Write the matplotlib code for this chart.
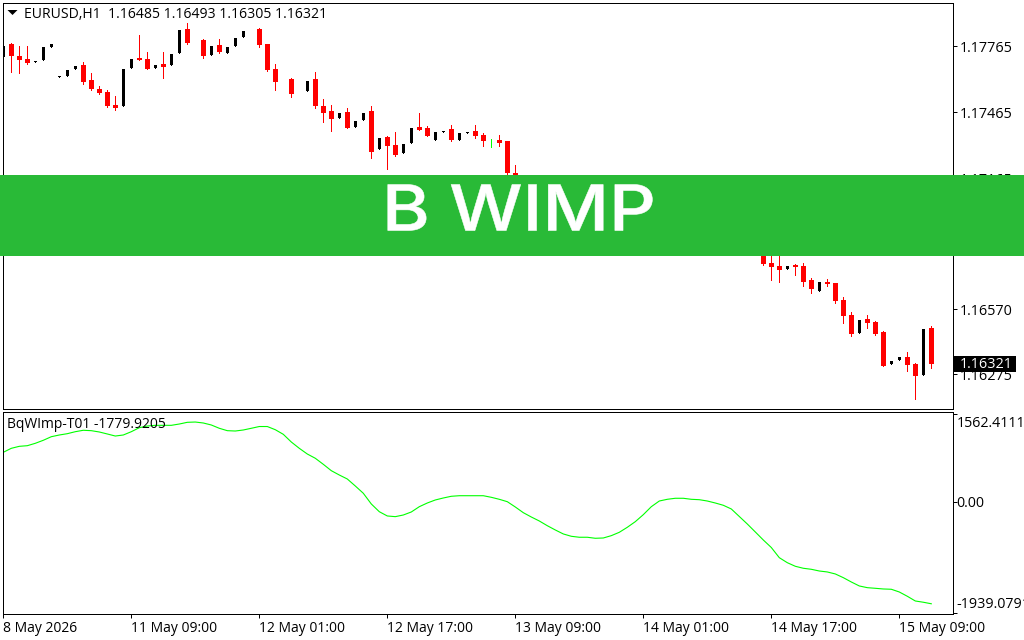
# EURUSD H1 terminal chart with BqWImp indicator panel and green title banner

import numpy as np
import matplotlib
matplotlib.use('Agg')
import matplotlib.pyplot as plt
import matplotlib.patheffects as pe
from matplotlib.patches import Rectangle
from matplotlib.transforms import Affine2D

plt.rcParams['font.family'] = ['Open Sans', 'DejaVu Sans']

# candles, prices in points (1 point = 0.00001). Bars behind the banner can't be read
bars = [0, 1, 2, 3, 4, 5, 6, 7, 8, 9,
        10, 11, 12, 13, 14, 15, 16, 17, 18, 19,
        20, 21, 22, 23, 25, 26, 27, 28, 29, 30,
        32, 33, 34, 36, 38, 39, 40, 41, 42, 43,
        44, 45, 46, 47, 48, 49, 50, 51, 52, 53,
        54, 55, 56, 57, 58, 59, 60, 61, 62, 63,
        64, 95, 96, 97, 98, 99, 100, 101, 102, 103,
        104, 105, 106, 107, 108, 109, 110, 111, 112, 113,
        114, 115, 116]
opens = [117717, 117776, 117722, 117708, 117695, 117704, 117763, 117626, 117631, 117663,
         117681, 117613, 117572, 117558, 117499, 117495, 117667, 117713, 117708, 117667,
         117686, 117681, 117736, 117845, 117795, 117726, 117772, 117736, 117767, 117808,
         117845, 117776, 117663, 117617, 117563, 117617, 117495, 117472, 117440, 117467,
         117399, 117431, 117472, 117299, 117354, 117317, 117281, 117326, 117399, 117395,
         117340, 117376, 117390, 117340, 117372, 117381, 117363, 117338, 117340, 117336,
         117190, 116840, 116781, 116767, 116754, 116772, 116767, 116704, 116654, 116695,
         116690, 116613, 116545, 116463, 116526, 116513, 116467, 116322, 116340, 116354,
         116322, 116272, 116485]
highs = [117767, 117781, 117767, 117767, 117699, 117763, 117776, 117630, 117658, 117676,
         117695, 117645, 117586, 117567, 117540, 117663, 117708, 117817, 117740, 117681,
         117740, 117731, 117840, 117872, 117799, 117767, 117799, 117763, 117804, 117836,
         117849, 117776, 117686, 117622, 117608, 117649, 117526, 117499, 117463, 117486,
         117426, 117463, 117495, 117349, 117358, 117376, 117322, 117395, 117463, 117404,
         117376, 117381, 117408, 117372, 117376, 117408, 117372, 117345, 117363, 117336,
         117226, 116840, 116813, 116813, 116767, 116776, 116781, 116713, 116695, 116708,
         116690, 116626, 116558, 116522, 116545, 116517, 116472, 116336, 116354, 116376,
         116326, 116481, 116493]
lows = [117717, 117649, 117645, 117686, 117695, 117704, 117763, 117626, 117631, 117663,
        117595, 117567, 117549, 117490, 117476, 117495, 117667, 117704, 117663, 117667,
        117622, 117681, 117736, 117776, 117713, 117726, 117736, 117736, 117767, 117808,
        117763, 117654, 117567, 117536, 117563, 117486, 117422, 117381, 117440, 117395,
        117399, 117431, 117258, 117299, 117208, 117267, 117281, 117326, 117386, 117358,
        117340, 117376, 117336, 117340, 117372, 117349, 117313, 117308, 117313, 117181,
        117167, 116772, 116704, 116695, 116754, 116726, 116676, 116645, 116654, 116676,
        116599, 116508, 116449, 116463, 116485, 116454, 116313, 116322, 116340, 116290,
        116163, 116272, 116305]
closes = [117767, 117722, 117704, 117690, 117699, 117763, 117776, 117630, 117658, 117676,
          117604, 117572, 117554, 117495, 117486, 117663, 117708, 117704, 117663, 117681,
          117672, 117731, 117840, 117781, 117722, 117767, 117740, 117763, 117804, 117836,
          117772, 117658, 117604, 117549, 117608, 117495, 117463, 117436, 117463, 117395,
          117426, 117463, 117286, 117349, 117313, 117272, 117322, 117395, 117386, 117358,
          117376, 117381, 117340, 117372, 117376, 117358, 117336, 117338, 117326, 117190,
          117167, 116776, 116763, 116749, 116767, 116763, 116695, 116663, 116695, 116686,
          116608, 116540, 116458, 116522, 116508, 116458, 116313, 116336, 116354, 116317,
          116267, 116481, 116321]

# indicator, one value per bar
wimp_values = [882, 952, 987, 998, 1040, 1093, 1156, 1186, 1209, 1244,
               1269, 1262, 1239, 1204, 1168, 1186, 1244, 1314, 1344, 1356,
               1356, 1356, 1379, 1409, 1414, 1397, 1362, 1304, 1262, 1256,
               1274, 1304, 1335, 1335, 1279, 1198, 1063, 952, 852, 777,
               671, 559, 483, 413, 290, 162, -26, -162, -237, -249,
               -220, -167, -74, -9, 44, 79, 109, 119, 119, 119,
               119, 91, 56, 14, -79, -179, -255, -325, -408, -483,
               -553, -594, -611, -611, -629, -624, -583, -524, -436, -337,
               -214, -74, 26, 56, 74, 74, 56, 49, 26, -9,
               -49, -114, -246, -378, -518, -659, -791, -970, -1058, -1121,
               -1156, -1174, -1204, -1221, -1256, -1321, -1397, -1467, -1497, -1508,
               -1520, -1525, -1573, -1648, -1731, -1753, -1780]

price_ticks = [1.17765, 1.17465, 1.17165, 1.16870, 1.16570, 1.16275]
wimp_ticks = [1562.4111, 0.0, -1939.0791]
wimp_tick_labels = ['1562.4111', '0.00', '-1939.0791']
time_ticks = [0, 16, 32, 48, 64, 80, 96, 112]
time_labels = ['8 May 2026', '11 May 09:00', '12 May 01:00', '12 May 17:00',
               '13 May 09:00', '14 May 01:00', '14 May 17:00', '15 May 09:00']
header = 'EURUSD,H1  1.16485 1.16493 1.16305 1.16321'
wimp_title = 'BqWImp-T01 -1779.9205'
last_price = closes[-1] / 1e5

W, H = 1024, 640
fig = plt.figure(figsize=(W / 100, H / 100), dpi=100)


class StretchX(pe.AbstractPathEffect):
    # the banner lettering is wider and heavier than the installed fonts, so widen it around cx
    def __init__(self, cx, factor, stroke):
        super().__init__()
        self.cx, self.factor, self.stroke = cx, factor, stroke

    def draw_path(self, renderer, gc, tpath, affine, rgbFace=None):
        wide = affine + Affine2D().translate(-self.cx, 0).scale(self.factor, 1).translate(self.cx, 0)
        gc.set_linewidth(self.stroke)
        gc.set_foreground('white')
        renderer.draw_path(gc, tpath, wide, rgbFace)


def panel(top, bottom):
    # axes from pixel rows, frame runs from x=2.5 to x=952.5
    return fig.add_axes([2.5 / W, 1 - bottom / H, 950 / W, (bottom - top) / H])


ax = panel(2.5, 409)
ax2 = panel(411.5, 613.5)

# candles
for i, o, h, l, c in zip(bars, opens, highs, lows, closes):
    o, h, l, c = o / 1e5, h / 1e5, l / 1e5, c / 1e5
    if c < o:
        color, width = '#ff0000', 5 / 8
    elif c > o:
        color, width = 'black', 3 / 8
    else:
        color, width = '#00ff00', 5 / 8
    if h > l:
        ax.vlines(i, l, h, color=color, lw=0.72, antialiased=False, zorder=2)
    body = max(abs(c - o), 0.00003)
    ax.bar(i, body, bottom=min(o, c), width=width, color=color, lw=0,
           antialiased=False, zorder=3)

ax.set_xlim(-0.1, 118.65)
ax.set_ylim(1.16117, 1.17965)
ax.set_xticks([])
ax.set_yticks(price_ticks)
ax.set_yticklabels([f'{p:.5f}' for p in price_ticks])

ax.text(0.0228, 0.9695, header, transform=ax.transAxes, fontsize=10.1, va='center', ha='left')
ax.plot([0.01], [0.9754], transform=ax.transAxes, marker=[(-1, 0.5), (1, 0.5), (0, -0.5)],
        ms=7.2, color='black', mec='none', clip_on=False)

# current price tag on the scale
ax.add_patch(Rectangle((1.0016, last_price - 0.00038), 0.0653, 0.00077,
                       transform=ax.get_yaxis_transform(), facecolor='black', edgecolor='none',
                       clip_on=False, zorder=6))
ax.text(1.0079, last_price, f'{last_price:.5f}', transform=ax.get_yaxis_transform(),
        color='white', fontsize=10.4, va='center', ha='left', zorder=7)

# indicator panel
ax2.plot(np.arange(len(wimp_values)), wimp_values, color='#00ff00', lw=0.8)
ax2.set_xlim(-0.1, 118.65)
ax2.set_ylim(-1951, 1599)
ax2.set_yticks(wimp_ticks)
ax2.set_yticklabels([])
for val, lab, off in zip(wimp_ticks, wimp_tick_labels, [-7.5, -1, 6.3]):
    ax2.annotate(lab, (1, val), xycoords=ax2.get_yaxis_transform(), xytext=(3, off),
                 textcoords='offset points', fontsize=10.3, va='center', ha='left',
                 annotation_clip=False)
ax2.set_xticks(time_ticks)
ax2.set_xticklabels(time_labels, ha='left')
ax2.text(0.005, 0.935, wimp_title, transform=ax2.transAxes, fontsize=10, va='center', ha='left')

for a in (ax, ax2):
    a.yaxis.tick_right()
    a.tick_params(axis='both', length=2.6, width=0.72, labelsize=10, pad=2.5, color='black')
    for s in a.spines.values():
        s.set_linewidth(0.72)
ax.tick_params(axis='y', pad=2.5, labelsize=10.4)

# banner over the chart
fig.add_artist(Rectangle((0, 1 - 256 / H), 1, 81 / H, transform=fig.transFigure,
                         facecolor='#29ba37', edgecolor='none', zorder=10))
fig.text(519 / W, 1 - 214 / H, 'B WIMP', color='white', fontsize=45.5, fontweight='medium',
         family='Inter', ha='center', va='center', zorder=11,
         path_effects=[StretchX(519, 1.155, 0.4)])

fig.savefig('out.png', dpi=100)
